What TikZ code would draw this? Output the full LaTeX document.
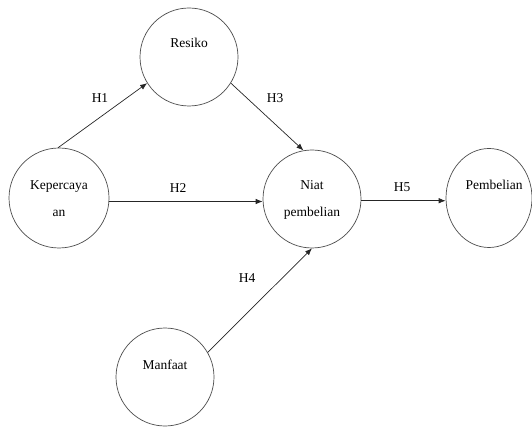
\documentclass[tikz,border=0pt]{standalone}
\usepackage{fontspec}
\setmainfont{Liberation Serif}
\usetikzlibrary{arrows.meta,shapes.geometric}
\begin{document}
\begin{tikzpicture}[x=1pt,y=-1pt,
  circ/.style={draw=black!70,line width=0.7pt,circle,minimum size=98pt,inner sep=0pt},
  oval/.style={draw=black!70,line width=0.7pt,ellipse,minimum width=86pt,minimum height=99pt,inner sep=0pt},
  txt/.style={font=\fontsize{13.5}{16}\selectfont,inner sep=0pt,anchor=base},
  hyp/.style={font=\fontsize{13.5}{16}\selectfont,inner sep=0pt},
  arr/.style={draw=black!85,line width=0.7pt,-{Latex[length=7pt,width=5.5pt]}}]
\useasboundingbox (0,0) rectangle (532,427);
\node[circ] (res) at (189,57) {};
\node[circ,minimum size=100pt] (kep) at (59,198) {};
\node[circ] (niat) at (312,199) {};
\node[circ] (man) at (165,377) {};
\node[oval] (pem) at (489,198) {};
\node[txt] (tres) at (189,48) {Resiko};
\node[txt] (tkep1) at (59,190) {Kepercaya};
\node[txt] (tkep2) at (59,217) {an};
\node[txt] (tniat1) at (312,190) {Niat};
\node[txt] (tniat2) at (312,217) {pembelian};
\node[txt] (tpem) at (494,190) {Pembelian};
\node[txt] (tman) at (165,369) {Manfaat};
\draw[arr] (kep.91) -- (res.212);
\draw[arr] (res.-32) -- (niat.100);
\draw[arr] (kep.-4) -- (kep.-4 -| niat.west);
\draw[arr] (niat.-2) -- (niat.-2 -| pem.west);
\draw[arr] (man.30) -- (niat.270);
\node[hyp] (h1) at (100,98) {H1};
\node[hyp] (h2) at (178,188) {H2};
\node[hyp] (h3) at (275,98) {H3};
\node[hyp] (h4) at (247,278) {H4};
\node[hyp] (h5) at (402,187) {H5};
\end{tikzpicture}
\end{document}
